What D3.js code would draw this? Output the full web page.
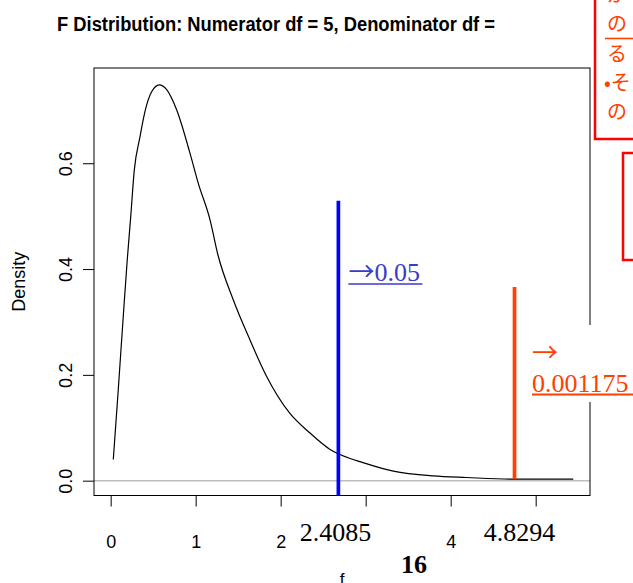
<!DOCTYPE html>
<html>
<head>
<meta charset="utf-8">
<script src="https://cdn.jsdelivr.net/npm/d3@7"></script>
<style>
  body { margin: 0; background: #fff; }
  svg { display: block; }
</style>
</head>
<body>
<script>
// curve (f, density)
const fValues = [0.031, 0.089, 0.148, 0.195, 0.236, 0.278, 0.345, 0.404, 0.482, 0.572, 0.659, 0.776, 0.933, 1.031, 1.169, 1.260, 1.442, 1.639, 1.835, 2.109, 2.345, 2.581, 2.816, 2.933, 3.325, 3.795, 4.188, 4.736, 5.442];
const densityValues = [0.040, 0.171, 0.310, 0.417, 0.499, 0.587, 0.650, 0.698, 0.735, 0.748, 0.739, 0.701, 0.619, 0.562, 0.493, 0.428, 0.342, 0.266, 0.197, 0.127, 0.090, 0.059, 0.042, 0.036, 0.018, 0.009, 0.006, 0.003, 0.003];

const xTicks = [0, 1, 2, 3, 4, 5];
const yTicks = [0, 0.2, 0.4, 0.6];
const hiddenXTicks = [3, 5]; // covered by the critical value labels

// critical value markers
const markX = [2.679, 4.751];
const markTop = [0.529, 0.366];
const markBottom = [-0.028, 0.003];
const markValues = ["2.4085", "4.8294"];
const markProbs = ["0.05", "0.001175"];

const titleText = "F Distribution: Numerator df = 5, Denominator df =";
const jpLines = ["が", "の", "る", "•そ", "の"];

const W = 633, H = 583;
const pLeft = 94, pRight = 590, pTop = 68, pBottom = 495.5;

const svg = d3.select("body").append("svg")
    .attr("width", W)
    .attr("height", H)
    .style("font-family", "'Liberation Sans', Arial, sans-serif");

const x = d3.scaleLinear().domain([-0.196, 5.639]).range([pLeft, pRight]);
const y = d3.scaleLinear().domain([-0.028, 0.780]).range([pBottom, pTop]);

// title
svg.append("text")
    .attr("x", 57).attr("y", 30.7)
    .attr("font-size", 20).attr("font-weight", "bold")
    .attr("textLength", 438).attr("lengthAdjust", "spacingAndGlyphs")
    .text(titleText);

// zero line
svg.append("line")
    .attr("x1", pLeft).attr("x2", pRight)
    .attr("y1", y(0)).attr("y2", y(0))
    .attr("stroke", "#bebebe").attr("stroke-width", 1.5);

// axes
const xAxis = svg.append("g")
    .attr("transform", `translate(0,${pBottom})`)
    .call(d3.axisBottom(x).tickValues(xTicks)
        .tickFormat(d => hiddenXTicks.includes(d) ? "" : d3.format("d")(d))
        .tickSize(11).tickSizeOuter(0));
xAxis.select(".domain").remove();
xAxis.selectAll("text").attr("dy", null).attr("y", 52).attr("font-size", 18);

const yAxis = svg.append("g")
    .attr("transform", `translate(${pLeft},0)`)
    .call(d3.axisLeft(y).tickValues(yTicks).tickFormat(d3.format(".1f")).tickSize(11).tickSizeOuter(0));
yAxis.select(".domain").remove();
yAxis.selectAll("text")
    .attr("transform", "rotate(-90)")
    .attr("x", 0).attr("y", -22).attr("dy", null)
    .attr("text-anchor", "middle")
    .attr("font-size", 18);
svg.selectAll(".tick line").attr("stroke", "#000");
svg.selectAll("g").attr("font-family", null);

// box
svg.append("rect")
    .attr("x", pLeft).attr("y", pTop)
    .attr("width", pRight - pLeft).attr("height", pBottom - pTop)
    .attr("fill", "none").attr("stroke", "#000").attr("stroke-width", 1);

svg.append("text")
    .attr("transform", `translate(25,${(pTop + pBottom) / 2}) rotate(-90)`)
    .attr("text-anchor", "middle")
    .attr("font-size", 18)
    .text("Density");

svg.append("text")
    .attr("x", 342).attr("y", 585)
    .attr("text-anchor", "middle")
    .attr("font-size", 17)
    .text("f");

// density curve
const line = d3.line()
    .x((d, i) => x(fValues[i]))
    .y(d => y(d))
    .curve(d3.curveMonotoneX);

svg.append("path")
    .datum(densityValues)
    .attr("d", line)
    .attr("fill", "none")
    .attr("stroke", "#000")
    .attr("stroke-width", 1.2);

// vertical markers
const markColors = ["#0000ff", "#ff4000"];
svg.selectAll(".mark")
    .data(markX)
    .join("line")
    .attr("class", "mark")
    .attr("x1", d => x(d)).attr("x2", d => x(d))
    .attr("y1", (d, i) => y(markTop[i]))
    .attr("y2", (d, i) => y(markBottom[i]))
    .attr("stroke", (d, i) => markColors[i])
    .attr("stroke-width", 3.7);

// critical value labels over the tick labels
const serif = "'Liberation Serif', 'Times New Roman', serif";
const cjk = "'Noto Sans CJK JP', sans-serif";
const valOffsets = [-3, 5];
markValues.forEach((v, i) => {
    const cx = x(markX[i]) + valOffsets[i];
    svg.append("rect")
        .attr("x", cx - 38).attr("y", 514)
        .attr("width", 76).attr("height", 34)
        .attr("fill", "#fff");
    svg.append("text")
        .attr("x", cx).attr("y", 541)
        .attr("text-anchor", "middle")
        .attr("font-family", serif).attr("font-size", 26)
        .text(v);
});

// the stray "16" from the title
svg.append("text")
    .attr("x", 414).attr("y", 573)
    .attr("text-anchor", "middle")
    .attr("font-family", serif).attr("font-size", 26).attr("font-weight", "bold")
    .text("16");

// probability labels
const blueTxt = "#3a3acd";
const pb = svg.append("text")
    .attr("x", x(markX[0]) + 10).attr("y", 281)
    .attr("font-family", serif).attr("font-size", 26)
    .attr("fill", blueTxt);
pb.append("tspan").attr("font-family", cjk).text("→");
pb.append("tspan").text(markProbs[0]);
svg.append("line")
    .attr("x1", x(markX[0]) + 10).attr("x2", x(markX[0]) + 84)
    .attr("y1", 284).attr("y2", 284)
    .attr("stroke", blueTxt).attr("stroke-width", 1.6);

const orange = "#ff4000";
svg.append("rect")
    .attr("x", 524).attr("y", 325)
    .attr("width", W - 524).attr("height", 77)
    .attr("fill", "#fff");
svg.append("text")
    .attr("x", 532).attr("y", 362)
    .attr("font-family", cjk).attr("font-size", 26)
    .attr("fill", orange)
    .text("→");
svg.append("text")
    .attr("x", 532).attr("y", 392)
    .attr("font-family", serif).attr("font-size", 26)
    .attr("fill", orange)
    .text(markProbs[1]);
svg.append("line")
    .attr("x1", 532).attr("x2", W)
    .attr("y1", 394.5).attr("y2", 394.5)
    .attr("stroke", orange).attr("stroke-width", 1.8);

// Japanese note boxes, cut by the right edge
svg.append("rect")
    .attr("x", 595).attr("y", -10)
    .attr("width", 80).attr("height", 149)
    .attr("fill", "#fff").attr("stroke", "#ff0000").attr("stroke-width", 2.5);
svg.append("g")
    .selectAll("text")
    .data(jpLines)
    .join("text")
    .attr("x", (d, i) => i === 3 ? 604 : 607)
    .attr("y", (d, i) => 2 + i * 29.3)
    .attr("font-family", cjk)
    .attr("font-size", 20)
    .attr("fill", orange)
    .text(d => d);
svg.append("line")
    .attr("x1", 605).attr("x2", W)
    .attr("y1", 38.5).attr("y2", 38.5)
    .attr("stroke", orange).attr("stroke-width", 1.6);

svg.append("rect")
    .attr("x", 623).attr("y", 153)
    .attr("width", 60).attr("height", 107)
    .attr("fill", "#fff").attr("stroke", "#ff0000").attr("stroke-width", 2.5);
</script>
</body>
</html>
